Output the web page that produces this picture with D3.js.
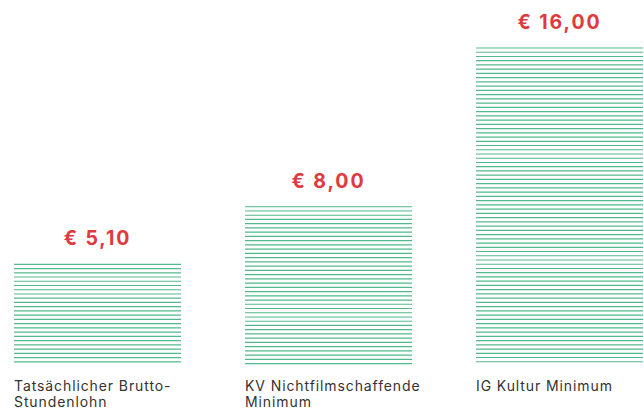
<!DOCTYPE html>
<html><head><meta charset="utf-8">
<script src="https://cdn.jsdelivr.net/npm/d3@7"></script>
<style>html,body{margin:0;padding:0;background:#fff;}svg{display:block;}</style>
</head><body>
<svg id="c" width="644" height="412"></svg>
<script>
const categories = ["Tatsächlicher Brutto-\nStundenlohn", "KV Nichtfilmschaffende\nMinimum", "IG Kultur Minimum"];
const values = [5.10, 8.00, 16.00];
const valueLabels = ["€ 5,10", "€ 8,00", "€ 16,00"];

const svg = d3.select("#c");
const x = d3.scaleBand().domain(categories).range([14, 643]).paddingInner(0.277).paddingOuter(0);
const y = d3.scaleLinear().domain([0, 16]).range([365.5, 48]);
const spacing = 4.24;

const g = svg.selectAll("g.bar").data(categories.map((c,i)=>({c, v: values[i], lab: valueLabels[i]})))
  .enter().append("g").attr("class","bar");

g.each(function(d){
  const top = y(d.v), bottom = y(0);
  const ys = [];
  for (let yy = top; yy <= bottom + 0.01; yy += spacing) ys.push(yy);
  d3.select(this).selectAll("line").data(ys).enter().append("line")
    .attr("x1", x(d.c)).attr("x2", x(d.c) + x.bandwidth())
    .attr("y1", v=>v).attr("y2", v=>v)
    .attr("stroke", "#52b98c").attr("stroke-width", 1.2);
  d3.select(this).append("text")
    .attr("x", x(d.c) + x.bandwidth()/2).attr("y", top - 19)
    .attr("text-anchor","middle")
    .attr("font-family","Inter, 'DejaVu Sans', sans-serif").attr("font-weight", 700)
    .attr("font-size", 19.5).attr("letter-spacing", 1.9).attr("fill", "#e0393e")
    .text(d.lab);
  d.c.split("\n").forEach((ln, k) => {
    d3.select(this).append("text")
      .attr("x", x(d.c)).attr("y", 390.5 + k * 16)
      .attr("font-family","Inter, 'DejaVu Sans', sans-serif").attr("font-weight", 400)
      .attr("font-size", 14).attr("letter-spacing", 0.9).attr("fill", "#333333")
      .text(ln);
  });
});
</script>
</body></html>
